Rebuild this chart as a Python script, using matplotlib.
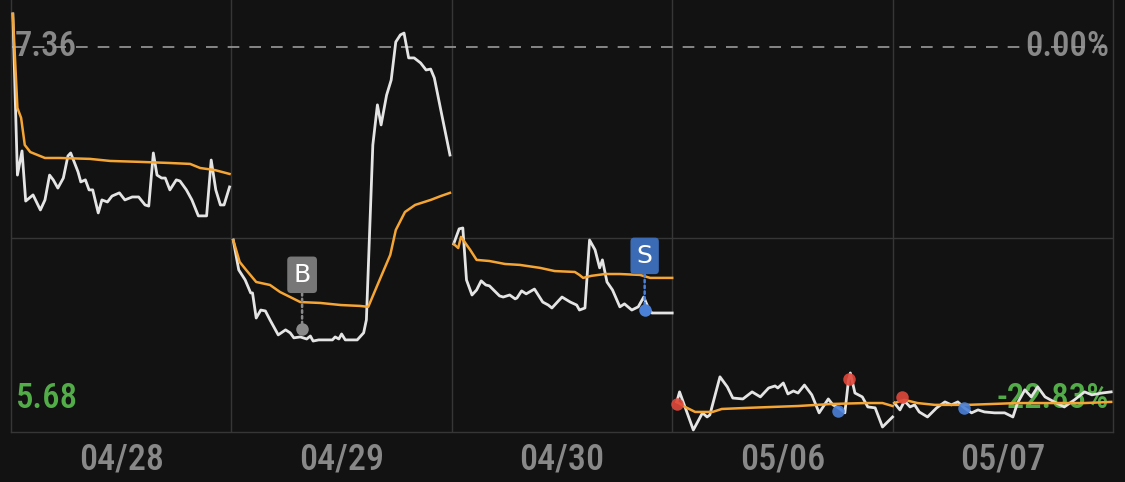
import matplotlib
matplotlib.use('Agg')
import matplotlib.pyplot as plt

# 5-day intraday chart, x = minutes since open (240 per session)
days = ['04/28', '04/29', '04/30', '05/06', '05/07']
prev_close = 7.36
low_price = 5.68

# price line, per day: minutes and price
t1 = [2, 7, 12, 16, 24, 32, 37, 42, 46, 51, 57, 62, 65, 73, 76, 81, 85, 89, 95, 99, 105, 110,
      118, 124, 132, 139, 146, 150, 155, 159, 164, 168, 173, 180, 184, 191, 197, 204, 213, 218,
      223, 228, 232, 238]
p1 = [7.505, 6.798, 6.904, 6.684, 6.711, 6.645, 6.689, 6.798, 6.777, 6.741, 6.785, 6.882, 6.895,
      6.812, 6.768, 6.777, 6.733, 6.733, 6.632, 6.689, 6.680, 6.706, 6.720, 6.689, 6.702, 6.702,
      6.667, 6.662, 6.895, 6.798, 6.785, 6.785, 6.733, 6.777, 6.772, 6.733, 6.689, 6.619, 6.619,
      6.864, 6.733, 6.667, 6.667, 6.746]
t2 = [2, 8, 15, 21, 23, 27, 32, 37, 42, 51, 59, 64, 68, 75, 82, 86, 89, 95, 110, 113, 117, 120,
      124, 137, 144, 147, 154, 159, 163, 169, 174, 179, 184, 188, 193, 199, 206, 212, 217, 221,
      228, 238]
p2 = [6.513, 6.382, 6.338, 6.281, 6.281, 6.171, 6.206, 6.202, 6.163, 6.097, 6.119, 6.106, 6.084,
      6.088, 6.079, 6.092, 6.070, 6.075, 6.075, 6.088, 6.079, 6.101, 6.075, 6.075, 6.106, 6.163,
      6.930, 7.106, 7.018, 7.149, 7.215, 7.382, 7.413, 7.421, 7.312, 7.312, 7.290, 7.259, 7.263,
      7.224, 7.084, 6.886]
t3 = [2, 8, 12, 16, 22, 27, 32, 37, 41, 52, 56, 63, 69, 71, 76, 81, 90, 99, 105, 109, 120, 129,
      136, 139, 145, 150, 156, 161, 164, 169, 175, 183, 188, 196, 203, 209, 215, 218, 240]
p3 = [6.496, 6.562, 6.566, 6.338, 6.272, 6.294, 6.334, 6.316, 6.312, 6.268, 6.263, 6.272, 6.255,
      6.259, 6.290, 6.277, 6.298, 6.241, 6.228, 6.215, 6.263, 6.241, 6.228, 6.206, 6.215, 6.513,
      6.470, 6.391, 6.426, 6.329, 6.294, 6.220, 6.233, 6.206, 6.220, 6.263, 6.206, 6.193, 6.193]
t4 = [5, 8, 23, 33, 38, 41, 52, 60, 66, 77, 87, 96, 105, 112, 115, 121, 126, 132, 137, 144, 152,
      160, 170, 175, 181, 188, 192, 194, 199, 207, 213, 221, 229, 240]
p4 = [5.803, 5.847, 5.680, 5.755, 5.737, 5.746, 5.913, 5.869, 5.820, 5.816, 5.847, 5.825, 5.864,
      5.873, 5.864, 5.886, 5.838, 5.851, 5.842, 5.877, 5.834, 5.755, 5.816, 5.790, 5.777, 5.755,
      5.899, 5.930, 5.842, 5.825, 5.781, 5.777, 5.693, 5.737]
t5 = [2, 8, 13, 19, 24, 29, 38, 48, 57, 64, 71, 78, 86, 93, 100, 111, 122, 131, 136, 144, 151,
      158, 166, 176, 187, 198, 209, 217, 228, 238]
p5 = [5.798, 5.768, 5.807, 5.781, 5.790, 5.759, 5.737, 5.777, 5.803, 5.790, 5.803, 5.777, 5.755,
      5.768, 5.759, 5.755, 5.755, 5.737, 5.798, 5.856, 5.825, 5.869, 5.825, 5.803, 5.781, 5.812,
      5.847, 5.834, 5.842, 5.847]

# average price line
a1_t = [2, 7, 11, 15, 21, 29, 37, 53, 86, 108, 140, 173, 195, 206, 222, 238]
a1 = [7.505, 7.092, 7.049, 6.930, 6.899, 6.886, 6.873, 6.873, 6.869, 6.860, 6.856, 6.851, 6.847,
      6.829, 6.820, 6.803]
a2_t = [2, 9, 16, 27, 42, 53, 64, 75, 97, 119, 140, 149, 160, 173, 179, 189, 200, 217, 228, 238]
a2 = [6.513, 6.417, 6.382, 6.329, 6.316, 6.285, 6.263, 6.241, 6.237, 6.228, 6.224, 6.220, 6.325,
      6.448, 6.557, 6.636, 6.667, 6.689, 6.706, 6.720]
a3_t = [2, 7, 10, 20, 27, 41, 58, 74, 96, 112, 134, 139, 143, 152, 167, 183, 205, 216, 240]
a3 = [6.496, 6.478, 6.527, 6.470, 6.426, 6.421, 6.408, 6.404, 6.391, 6.377, 6.373, 6.360, 6.347,
      6.356, 6.364, 6.364, 6.360, 6.347, 6.347]
a4_t = [5, 14, 25, 44, 54, 83, 137, 174, 210, 229, 240]
a4 = [5.803, 5.781, 5.759, 5.759, 5.772, 5.777, 5.785, 5.794, 5.798, 5.798, 5.785]
a5_t = [2, 13, 27, 46, 82, 136, 173, 209, 238]
a5 = [5.798, 5.812, 5.798, 5.790, 5.790, 5.798, 5.798, 5.798, 5.803]

price_t = [t1, t2, t3, t4, t5]
price = [p1, p2, p3, p4, p5]
avg_t = [a1_t, a2_t, a3_t, a4_t, a5_t]
avg = [a1, a2, a3, a4, a5]

# trade marks: (day, minute, price)
buy_mark = (1, 77, 6.123)
sell_mark = (2, 210, 6.206)
red_dots = [(3, 5, 5.794), (3, 192, 5.904), (4, 10, 5.825)]
blue_dots = [(3, 181, 5.763), (4, 78, 5.777)]

BG = '#121212'
GRID = '#363636'
GRAY = '#888888'
GREEN = '#52ad48'
WHITE = '#e4e4e4'
ORANGE = '#f5a534'
NARROW = ['Roboto Condensed', 'Liberation Sans Narrow', 'Roboto', 'DejaVu Sans']

fig = plt.figure(figsize=(11.25, 4.82), dpi=100, facecolor=BG)
ax = fig.add_axes([11 / 1125, 50 / 482, 1102 / 1125, 432 / 482])
ax.set_facecolor(BG)
ax.set_xlim(0, 240 * len(days))
ax.set_ylim(5.671, 7.566)

for d in range(1, len(days)):
    ax.axvline(d * 240, color=GRID, lw=1, zorder=1)
ax.axhline((prev_close + low_price) / 2, color=GRID, lw=1, zorder=1)
ax.axhline(prev_close, color='#9a9a9a', lw=1.2, ls=(0, (7, 6)), zorder=2)

for d in range(len(days)):
    ax.plot([d * 240 + m for m in price_t[d]], price[d], color=WHITE, lw=2.0, zorder=3,
            solid_joinstyle='round')
    ax.plot([d * 240 + m for m in avg_t[d]], avg[d], color=ORANGE, lw=1.8, zorder=4)

for d, m, v in red_dots:
    ax.plot(d * 240 + m, v, 'o', ms=9, color='#e0483c', alpha=0.9, mec='none', zorder=6)
for d, m, v in blue_dots:
    ax.plot(d * 240 + m, v, 'o', ms=9, color='#4a80d8', alpha=0.9, mec='none', zorder=6)

for (d, m, v), lab, col, dot in [(buy_mark, 'B', '#777777', '#8a8a8a'),
                                  (sell_mark, 'S', '#3b6bb5', '#4a80d8')]:
    x = d * 240 + m
    ax.plot(x, v, 'o', ms=9, color=dot, mec='none', zorder=6)
    ax.annotate(lab, xy=(x, v), xytext=(0, 39), textcoords='offset points',
                ha='center', va='center', color='white', fontsize=18, family='DejaVu Sans',
                bbox=dict(boxstyle='round,pad=0.25,rounding_size=0.15', fc=col, ec='none'),
                arrowprops=dict(arrowstyle='-', color=dot, lw=1.8, ls=(0, (1, 1.3)),
                                shrinkA=0, shrinkB=4),
                zorder=7)

# corner labels sit under the lines
lab_kw = dict(fontsize=25, family=NARROW, fontweight='medium', zorder=1.5)
ax.text(4 / 1102, prev_close, '7.36', transform=ax.get_yaxis_transform(), ha='left',
        va='center', color=GRAY, **lab_kw)
ax.text(1098 / 1102, prev_close, '0.00%', transform=ax.get_yaxis_transform(), ha='right',
        va='center', color=GRAY, **lab_kw)
ax.text(5 / 1102, 34 / 432, '5.68', transform=ax.transAxes, ha='left', va='center',
        color=GREEN, **lab_kw)
ax.text(1098 / 1102, 34 / 432, '-22.83%', transform=ax.transAxes, ha='right', va='center',
        color=GREEN, **lab_kw)

ax.set_xticks([d * 240 + 120 for d in range(len(days))])
ax.set_xticklabels(days, color=GRAY, fontsize=26, family=NARROW, fontweight='medium')
ax.tick_params(axis='x', length=0, pad=7)
ax.set_yticks([])
for s in ['left', 'right', 'bottom']:
    ax.spines[s].set_color(GRID)
    ax.spines[s].set_linewidth(1)
ax.spines['top'].set_visible(False)

fig.savefig('out.png', dpi=100, facecolor=BG)
